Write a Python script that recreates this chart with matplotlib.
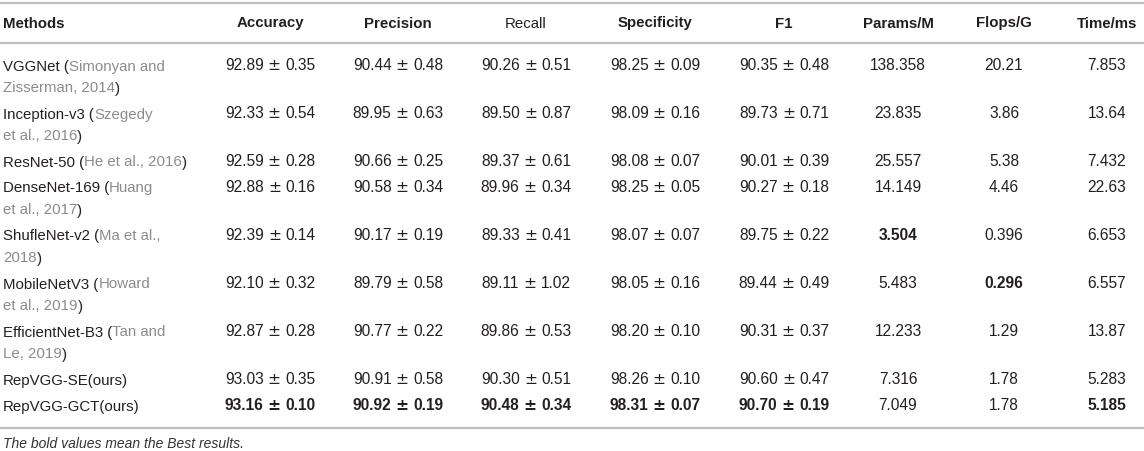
import matplotlib
matplotlib.use("Agg")
import matplotlib.pyplot as plt
from matplotlib.lines import Line2D

plt.rcParams['font.family'] = ['Liberation Sans', 'DejaVu Sans']

#%% table contents
headers = ["Methods", "Accuracy", "Precision", "Recall", "Specificity", "F1",
           "Params/M", "Flops/G", "Time/ms"]
header_bold = [True, True, True, False, True, True, True, True, True]

# method names: each line is a list of (text, is_citation) pieces
methods = [
    [[("VGGNet (", 0), ("Simonyan and", 1)], [("Zisserman, 2014", 1), (")", 0)]],
    [[("Inception-v3 (", 0), ("Szegedy", 1)], [("et al., 2016", 1), (")", 0)]],
    [[("ResNet-50 (", 0), ("He et al., 2016", 1), (")", 0)]],
    [[("DenseNet-169 (", 0), ("Huang", 1)], [("et al., 2017", 1), (")", 0)]],
    [[("ShufleNet-v2 (", 0), ("Ma et al.,", 1)], [("2018", 1), (")", 0)]],
    [[("MobileNetV3 (", 0), ("Howard", 1)], [("et al., 2019", 1), (")", 0)]],
    [[("EfficientNet-B3 (", 0), ("Tan and", 1)], [("Le, 2019", 1), (")", 0)]],
    [[("RepVGG-SE(ours)", 0)]],
    [[("RepVGG-GCT(ours)", 0)]],
]

accuracy    = ["92.89 ± 0.35", "92.33 ± 0.54", "92.59 ± 0.28", "92.88 ± 0.16", "92.39 ± 0.14",
               "92.10 ± 0.32", "92.87 ± 0.28", "93.03 ± 0.35", "93.16 ± 0.10"]
precision   = ["90.44 ± 0.48", "89.95 ± 0.63", "90.66 ± 0.25", "90.58 ± 0.34", "90.17 ± 0.19",
               "89.79 ± 0.58", "90.77 ± 0.22", "90.91 ± 0.58", "90.92 ± 0.19"]
recall      = ["90.26 ± 0.51", "89.50 ± 0.87", "89.37 ± 0.61", "89.96 ± 0.34", "89.33 ± 0.41",
               "89.11 ± 1.02", "89.86 ± 0.53", "90.30 ± 0.51", "90.48 ± 0.34"]
specificity = ["98.25 ± 0.09", "98.09 ± 0.16", "98.08 ± 0.07", "98.25 ± 0.05", "98.07 ± 0.07",
               "98.05 ± 0.16", "98.20 ± 0.10", "98.26 ± 0.10", "98.31 ± 0.07"]
f1          = ["90.35 ± 0.48", "89.73 ± 0.71", "90.01 ± 0.39", "90.27 ± 0.18", "89.75 ± 0.22",
               "89.44 ± 0.49", "90.31 ± 0.37", "90.60 ± 0.47", "90.70 ± 0.19"]
params      = ["138.358", "23.835", "25.557", "14.149", "3.504", "5.483", "12.233", "7.316", "7.049"]
flops       = ["20.21", "3.86", "5.38", "4.46", "0.396", "0.296", "1.29", "1.78", "1.78"]
times       = ["7.853", "13.64", "7.432", "22.63", "6.653", "6.557", "13.87", "5.283", "5.185"]

# (row, column) of the best values, printed bold; column 1 = Accuracy
bold_cells = [(8, 1), (8, 2), (8, 3), (8, 4), (8, 5), (4, 6), (5, 7), (8, 8)]

footnote = "The bold values mean the Best results."

#%% layout (pixels, measured from top-left)
W, H = 1144, 451
col_x = [3, 270, 398, 526, 655, 784, 898, 1004, 1107]
rule_y = [3, 43, 428]
header_y = 22
first_line_y = 65
line_pitch = 22   # between lines inside a cell
row_gap = 26      # from last line of a row to first line of next
fs = 10.8
fs_num = 11.2
dark = "#231f20"
grey = "#8c8c8c"

fig = plt.figure(figsize=(W / 100, H / 100), dpi=100)
renderer = fig.canvas.get_renderer()

def fx(px):
    return px / W

def fy(py):
    return 1 - py / H

def put(x, y, s, **kw):
    # y is the visual centre of the line, shift to baseline
    return fig.text(fx(x), fy(y + 5.5), s, va="baseline", fontsize=kw.pop("fontsize", fs),
                    color=kw.pop("color", dark), **kw)

def width_px(s, size=fs, **kw):
    t = fig.text(0, 0, s, fontsize=size, **kw)
    w = t.get_window_extent(renderer).width
    t.remove()
    return w

def put_pm(xc, y, s, bold):
    # "a ± b": the ± comes from DejaVu Sans, which has a wider sign (closer to the paper)
    fw = "bold" if bold else "normal"
    left, right = s.split(" ± ")
    w_l = width_px(left, fs_num, fontweight=fw)
    w_r = width_px(right, fs_num, fontweight=fw)
    w_pm = width_px("±", fs_num, family="DejaVu Sans", fontweight=fw)
    w_sp = width_px("0 0", fs_num) - width_px("00", fs_num)
    x0 = xc - (w_l + w_r + w_pm + 2 * w_sp) / 2
    put(x0, y, left, ha="left", fontsize=fs_num, fontweight=fw)
    put(x0 + w_l + w_sp, y, "±", ha="left", fontsize=fs_num, family="DejaVu Sans", fontweight=fw)
    put(x0 + w_l + 2 * w_sp + w_pm, y, right, ha="left", fontsize=fs_num, fontweight=fw)

for ry in rule_y:
    fig.add_artist(Line2D([0, 1], [fy(ry), fy(ry)], color="#bdbdbd", lw=1.6))

# header row
for c, (h, b) in enumerate(zip(headers, header_bold)):
    put(col_x[c], header_y, h, ha="left" if c == 0 else "center",
        fontweight="bold" if b else "normal")

columns = [accuracy, precision, recall, specificity, f1, params, flops, times]
y = first_line_y
for r, lines in enumerate(methods):
    # method name, piece by piece
    for li, pieces in enumerate(lines):
        ly = y + li * line_pitch
        prefix = ""
        for text, cite in pieces:
            x = col_x[0] + (width_px(prefix) if prefix else 0)
            put(x, ly, text, ha="left", color=grey if cite else dark)
            prefix += text
    # numeric cells
    for c, col in enumerate(columns, start=1):
        bold = (r, c) in bold_cells
        if " ± " in col[r]:
            put_pm(col_x[c], y, col[r], bold)
        else:
            put(col_x[c], y, col[r], ha="center", fontsize=fs_num,
                fontweight="bold" if bold else "normal")
    y += (len(lines) - 1) * line_pitch + row_gap

put(3, 442, footnote, ha="left", fontsize=10, style="italic", color="#333333")

fig.savefig("out.png", dpi=100)
